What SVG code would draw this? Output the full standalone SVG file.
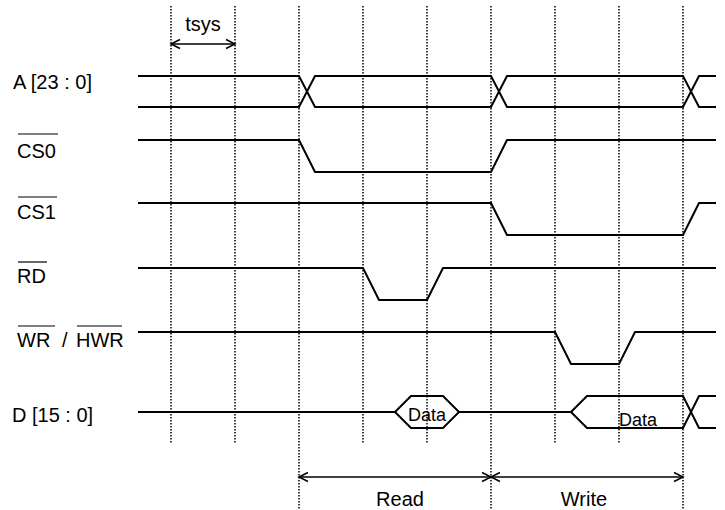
<svg xmlns="http://www.w3.org/2000/svg" width="725" height="510" viewBox="0 0 725 510">
  <style>
    .sig { fill: none; stroke: #000; stroke-width: 2; stroke-linejoin: miter; }
    .grid { stroke: #000; stroke-width: 1.5; stroke-dasharray: 1.5 1.5; }
    .arr { fill: none; stroke: #000; stroke-width: 1.5; marker-start: url(#head); marker-end: url(#head); }
    .lbl { font-family: "Liberation Sans", Arial, sans-serif; font-size: 20px; fill: #000; }
    .dat { font-family: "Liberation Sans", Arial, sans-serif; font-size: 18px; fill: #000; }
    .ovl { stroke: #000; stroke-width: 1.2; }
  </style>
  <defs>
    <marker id="head" viewBox="-11 -6 13 12" markerWidth="13" markerHeight="12" refX="0" refY="0" orient="auto-start-reverse" markerUnits="userSpaceOnUse">
      <path d="M-9,-4.5 L0,0 L-9,4.5" fill="none" stroke="#000" stroke-width="1.5"/>
    </marker>
  </defs>
  <rect width="725" height="510" fill="#fff"/>

  <g id="grid">
    <line class="grid" x1="171" y1="6" x2="171" y2="444"/>
    <line class="grid" x1="235" y1="6" x2="235" y2="444"/>
    <line class="grid" x1="299" y1="6" x2="299" y2="510"/>
    <line class="grid" x1="363" y1="6" x2="363" y2="444"/>
    <line class="grid" x1="427" y1="6" x2="427" y2="444"/>
    <line class="grid" x1="491" y1="6" x2="491" y2="510"/>
    <line class="grid" x1="555" y1="6" x2="555" y2="444"/>
    <line class="grid" x1="619" y1="6" x2="619" y2="444"/>
    <line class="grid" x1="683" y1="6" x2="683" y2="510"/>
  </g>

  <g id="sig-A">
    <text class="lbl" x="13" y="89">A [23 : 0]</text>
    <path class="sig" d="M138,76 H299 L315,107 H491 L507,76 H683 L699,107 H716"/>
    <path class="sig" d="M138,107 H299 L315,76 H491 L507,107 H683 L699,76 H716"/>
  </g>

  <g id="sig-CS0">
    <text class="lbl" x="17" y="158">CS0</text>
    <line class="ovl" x1="18" y1="134" x2="58" y2="134"/>
    <path class="sig" d="M138,140 H299 L315,172 H491 L507,140 H716"/>
  </g>

  <g id="sig-CS1">
    <text class="lbl" x="17" y="219">CS1</text>
    <line class="ovl" x1="18" y1="197" x2="57" y2="197"/>
    <path class="sig" d="M138,203 H491 L507,235 H683 L699,203 H716"/>
  </g>

  <g id="sig-RD">
    <text class="lbl" x="17" y="283">RD</text>
    <line class="ovl" x1="18" y1="262" x2="47" y2="262"/>
    <path class="sig" d="M138,268 H363 L379,300 H427 L443,268 H716"/>
  </g>

  <g id="sig-WR">
    <text class="lbl" y="347"><tspan x="17">WR</tspan><tspan x="62">/</tspan><tspan x="76">HWR</tspan></text>
    <line class="ovl" x1="18" y1="326" x2="55" y2="326"/>
    <line class="ovl" x1="77" y1="326" x2="122" y2="326"/>
    <path class="sig" d="M138,332 H555 L571,364 H619 L635,332 H716"/>
  </g>

  <g id="sig-D">
    <text class="lbl" x="12" y="422">D [15 : 0]</text>
    <path class="sig" d="M138,412 H395 M459,412 H571"/>
    <path class="sig" d="M395,412 L411,396 H443 L459,412 L443,428 H411 Z"/>
    <text class="dat" x="427" y="421" text-anchor="middle">Data</text>
    <path class="sig" d="M571,412 L587,396 H683 L699,428 H716"/>
    <path class="sig" d="M571,412 L587,428 H683 L699,396 H716"/>
    <text class="dat" x="638" y="426" text-anchor="middle">Data</text>
  </g>

  <g id="connectors">
    <line class="arr" x1="171" y1="44" x2="235" y2="44"/>
    <line class="arr" x1="299" y1="477" x2="491" y2="477"/>
    <line class="arr" x1="491" y1="477" x2="683" y2="477"/>
  </g>

  <g id="labels">
    <text class="lbl" x="203" y="31" text-anchor="middle">tsys</text>
    <text class="lbl" x="400" y="506" text-anchor="middle">Read</text>
    <text class="lbl" x="584" y="506" text-anchor="middle">Write</text>
  </g>
</svg>
